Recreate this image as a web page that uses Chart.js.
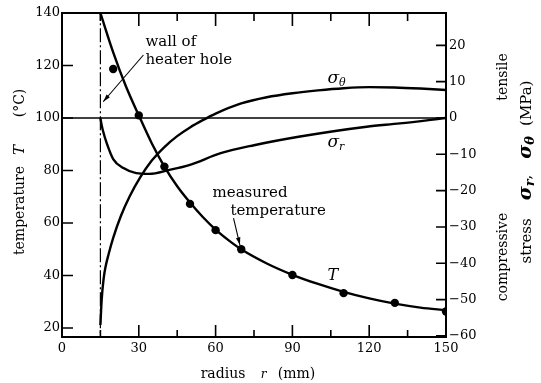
<!DOCTYPE html>
<html><head><meta charset="utf-8">
<script src="https://cdn.jsdelivr.net/npm/chart.js@4.4.0/dist/chart.umd.min.js"></script>
<style>html,body{margin:0;padding:0;background:#fff}#wrap{width:541px;height:383px}</style>
</head><body><div id="wrap"><canvas id="c" width="541" height="383"></canvas></div>
<script>
// ---- data ----
const radiusTicks = [0, 30, 60, 90, 120, 150];
const radiusMinorTicks = [15, 45, 75, 105, 135];
const tempTicks = [20, 40, 60, 80, 100, 120, 140];
const stressTicks = [20, 10, 0, -10, -20, -30, -40, -50, -60];

const tCurveR = [15, 20, 25, 30, 35, 40, 45, 50, 55, 60, 65, 70, 80, 90, 100, 110, 120, 130, 140, 150];
const tCurveT = [140, 125, 112, 101, 90.5, 81.5, 74, 67.8, 62.3, 57.5, 53.5, 50, 44.6, 40.3, 36.8, 33.8, 31.3, 29.3, 27.8, 26.8];

const measR = [20, 30, 40, 50, 60, 70, 90, 110, 130, 150];
const measT = [118.7, 101, 81.5, 67.3, 57.3, 50, 40.2, 33.3, 29.6, 26.3];

const sThetaR = [15, 15.5, 16.3, 17, 18.2, 20, 23, 26.5, 30.6, 35, 40, 45, 50, 55, 60, 70, 80, 90, 100, 110, 120, 130, 140, 150];
const sThetaS = [-57, -50, -44, -41, -37.5, -33, -27, -21.5, -16.3, -11.8, -8.0, -5.0, -2.6, -0.6, 1.2, 4.0, 5.7, 6.8, 7.6, 8.2, 8.5, 8.4, 8.1, 7.7];

const sRR = [15, 15.5, 16, 17.5, 20, 24, 29, 34, 42, 50, 62, 75, 93, 119, 132, 150];
const sRS = [0, -2, -3.5, -7, -11.3, -13.8, -15.2, -15.4, -14.3, -12.9, -9.7, -7.5, -5.1, -2.4, -1.5, 0];

const wallR = 15;
const zeroStress = 0;

const pts = (xs, ys) => xs.map((x, i) => ({x: x, y: ys[i]}));
const SERIF = '"DejaVu Serif", serif';

function arrow(c, x1, y1, x2, y2, head) {
  c.beginPath(); c.moveTo(x1, y1); c.lineTo(x2, y2); c.stroke();
  const ang = Math.atan2(y2 - y1, x2 - x1);
  c.beginPath();
  c.moveTo(x2, y2);
  c.lineTo(x2 - head * Math.cos(ang - 0.28), y2 - head * Math.sin(ang - 0.28));
  c.lineTo(x2 - head * Math.cos(ang + 0.28), y2 - head * Math.sin(ang + 0.28));
  c.closePath(); c.fill();
}

function runsWidth(c, runs) {
  let w = 0;
  runs.forEach(r => { c.font = r.f; w += c.measureText(r.t).width + (r.gap || 0); });
  return w;
}
function drawRuns(c, x, y, runs) {
  let cx = x;
  runs.forEach(r => { c.font = r.f; c.fillText(r.t, cx, y + (r.dy || 0)); cx += c.measureText(r.t).width + (r.gap || 0); });
}
function drawRotatedRuns(c, xBase, yCenter, runs) {
  c.save();
  c.translate(xBase, yCenter);
  c.rotate(-Math.PI / 2);
  c.textAlign = 'left'; c.textBaseline = 'alphabetic';
  const w = runsWidth(c, runs);
  drawRuns(c, -w / 2, 0, runs);
  c.restore();
}

const overlay = {
  id: 'overlay',
  afterDraw(chart) {
    const c = chart.ctx, a = chart.chartArea;
    const sx = chart.scales.x, sT = chart.scales.yT, sS = chart.scales.yS;
    c.save();
    c.strokeStyle = '#000'; c.fillStyle = '#000';
    c.lineWidth = 2;
    c.strokeRect(a.left, a.top, a.right - a.left, a.bottom - a.top);
    c.lineWidth = 1.6;
    c.beginPath();
    radiusTicks.forEach(v => {
      if (v <= 0 || v >= 150) return;
      const p = sx.getPixelForValue(v);
      c.moveTo(p, a.bottom); c.lineTo(p, a.bottom - 12);
      c.moveTo(p, a.top); c.lineTo(p, a.top + 13);
    });
    radiusMinorTicks.forEach(v => {
      const p = sx.getPixelForValue(v);
      c.moveTo(p, a.bottom); c.lineTo(p, a.bottom - 7);
      c.moveTo(p, a.top); c.lineTo(p, a.top + 8);
    });
    tempTicks.forEach(v => {
      const p = sT.getPixelForValue(v);
      if (p <= a.top + 1 || p >= a.bottom - 1) return;
      c.moveTo(a.left, p); c.lineTo(a.left + 11, p);
    });
    stressTicks.forEach(v => {
      const p = sS.getPixelForValue(v);
      if (p <= a.top + 1 || p >= a.bottom - 1) return;
      c.moveTo(a.right, p); c.lineTo(a.right - 10, p);
    });
    c.stroke();

    // annotations
    c.textAlign = 'left'; c.textBaseline = 'alphabetic';
    const f15 = '15px ' + SERIF;
    c.font = f15;
    c.fillText('wall of', sx.getPixelForValue(32.6), sT.getPixelForValue(127.4));
    c.fillText('heater hole', sx.getPixelForValue(32.6), sT.getPixelForValue(120.6));
    c.fillText('measured', sx.getPixelForValue(58.8), sT.getPixelForValue(69.9));
    c.fillText('temperature', sx.getPixelForValue(65.8), sT.getPixelForValue(63));
    c.lineWidth = 1.1;
    arrow(c, sx.getPixelForValue(31.8), sT.getPixelForValue(124), sx.getPixelForValue(16.1), sT.getPixelForValue(106.2), 8);
    arrow(c, sx.getPixelForValue(67), sT.getPixelForValue(61.9), sx.getPixelForValue(69.5), sT.getPixelForValue(51.6), 8);

    c.font = 'italic 16px ' + SERIF;
    c.fillText('T', sx.getPixelForValue(103.7), sT.getPixelForValue(38.3));
    drawRuns(c, sx.getPixelForValue(103.7), sS.getPixelForValue(9.55), [
      {t: 'σ', f: 'italic 17px ' + SERIF},
      {t: 'θ', f: 'italic 11px ' + SERIF, dy: 3}
    ]);
    drawRuns(c, sx.getPixelForValue(103.7), sS.getPixelForValue(-8.07), [
      {t: 'σ', f: 'italic 17px ' + SERIF},
      {t: 'r', f: 'italic 11px ' + SERIF, dy: 3}
    ]);

    // axis titles
    const f14 = '14px ' + SERIF;
    c.font = f14; c.textAlign = 'center';
    c.fillText('radius', 223, 378);
    c.font = 'italic 12px ' + SERIF;
    c.fillText('r', 263.5, 378);
    c.font = f14;
    c.fillText('(mm)', 296.5, 378);

    drawRotatedRuns(c, 24, 210.5, [{t: 'temperature', f: f14}]);
    drawRotatedRuns(c, 24, 150, [{t: 'T', f: 'italic 15px ' + SERIF}]);
    drawRotatedRuns(c, 24, 103, [{t: '(°C)', f: f14}]);

    drawRotatedRuns(c, 507, 77, [{t: 'tensile', f: f14}]);
    drawRotatedRuns(c, 507, 257, [{t: 'compressive', f: f14}]);
    drawRotatedRuns(c, 531, 172, [
      {t: 'stress', f: '15px ' + SERIF, gap: 18},
      {t: 'σ', f: 'bold italic 19px ' + SERIF},
      {t: 'r', f: 'bold italic 13px ' + SERIF, dy: 3},
      {t: ',', f: '15px ' + SERIF, gap: 16},
      {t: 'σ', f: 'bold italic 19px ' + SERIF},
      {t: 'θ', f: 'bold italic 13px ' + SERIF, dy: 3, gap: 10},
      {t: '(MPa)', f: '15px ' + SERIF}
    ]);
    c.restore();
  }
};

const tickFont = {family: SERIF, size: 13};
new Chart(document.getElementById('c'), {
  type: 'scatter',
  data: {
    datasets: [
      {label: 'T', data: pts(tCurveR, tCurveT), yAxisID: 'yT', showLine: true, borderColor: '#000', borderWidth: 2.4, pointRadius: 0, cubicInterpolationMode: 'monotone'},
      {label: 'measured temperature', data: pts(measR, measT), yAxisID: 'yT', showLine: false, pointRadius: 4.2, backgroundColor: '#000', borderColor: '#000', borderWidth: 0},
      {label: 'σθ', data: pts(sThetaR, sThetaS), yAxisID: 'yS', showLine: true, borderColor: '#000', borderWidth: 2.4, pointRadius: 0, cubicInterpolationMode: 'monotone'},
      {label: 'σr', data: pts(sRR, sRS), yAxisID: 'yS', showLine: true, borderColor: '#000', borderWidth: 2.4, pointRadius: 0, cubicInterpolationMode: 'monotone'},
      {label: 'zero', data: [{x: 0, y: zeroStress}, {x: 150, y: zeroStress}], yAxisID: 'yS', showLine: true, borderColor: '#000', borderWidth: 1.6, pointRadius: 0},
      {label: 'wall', data: [{x: wallR, y: -70}, {x: wallR, y: 40}], yAxisID: 'yS', showLine: true, borderColor: '#000', borderWidth: 1.2, pointRadius: 0, borderDash: [14, 3, 2, 3]}
    ]
  },
  options: {
    responsive: false, animation: false,
    layout: {padding: {top: 13, left: 0, right: 0, bottom: 0}},
    plugins: {legend: {display: false}, tooltip: {enabled: false}},
    scales: {
      x: {
        type: 'linear', min: 0, max: 150,
        grid: {display: false, drawTicks: false}, border: {display: false},
        ticks: {font: tickFont, color: '#000', padding: 4, maxRotation: 0},
        afterBuildTicks: s => { s.ticks = radiusTicks.map(v => ({value: v})); },
        afterFit: s => { s.height = 46; }
      },
      yT: {
        type: 'linear', position: 'left', min: 16.6, max: 140,
        grid: {display: false, drawTicks: false}, border: {display: false},
        ticks: {font: tickFont, color: '#000', padding: 2},
        afterBuildTicks: s => { s.ticks = tempTicks.map(v => ({value: v})); },
        afterFit: s => { s.width = 62; }
      },
      yS: {
        type: 'linear', position: 'right', min: -60.3, max: 28.9,
        grid: {display: false, drawTicks: false}, border: {display: false},
        ticks: {font: tickFont, color: '#000', padding: 3,
          callback: v => v < 0 ? '\u2212' + Math.abs(v) : String(v)},
        afterBuildTicks: s => { s.ticks = stressTicks.map(v => ({value: v})); },
        afterFit: s => { s.width = 95; }
      }
    }
  },
  plugins: [overlay]
});
</script></body></html>
